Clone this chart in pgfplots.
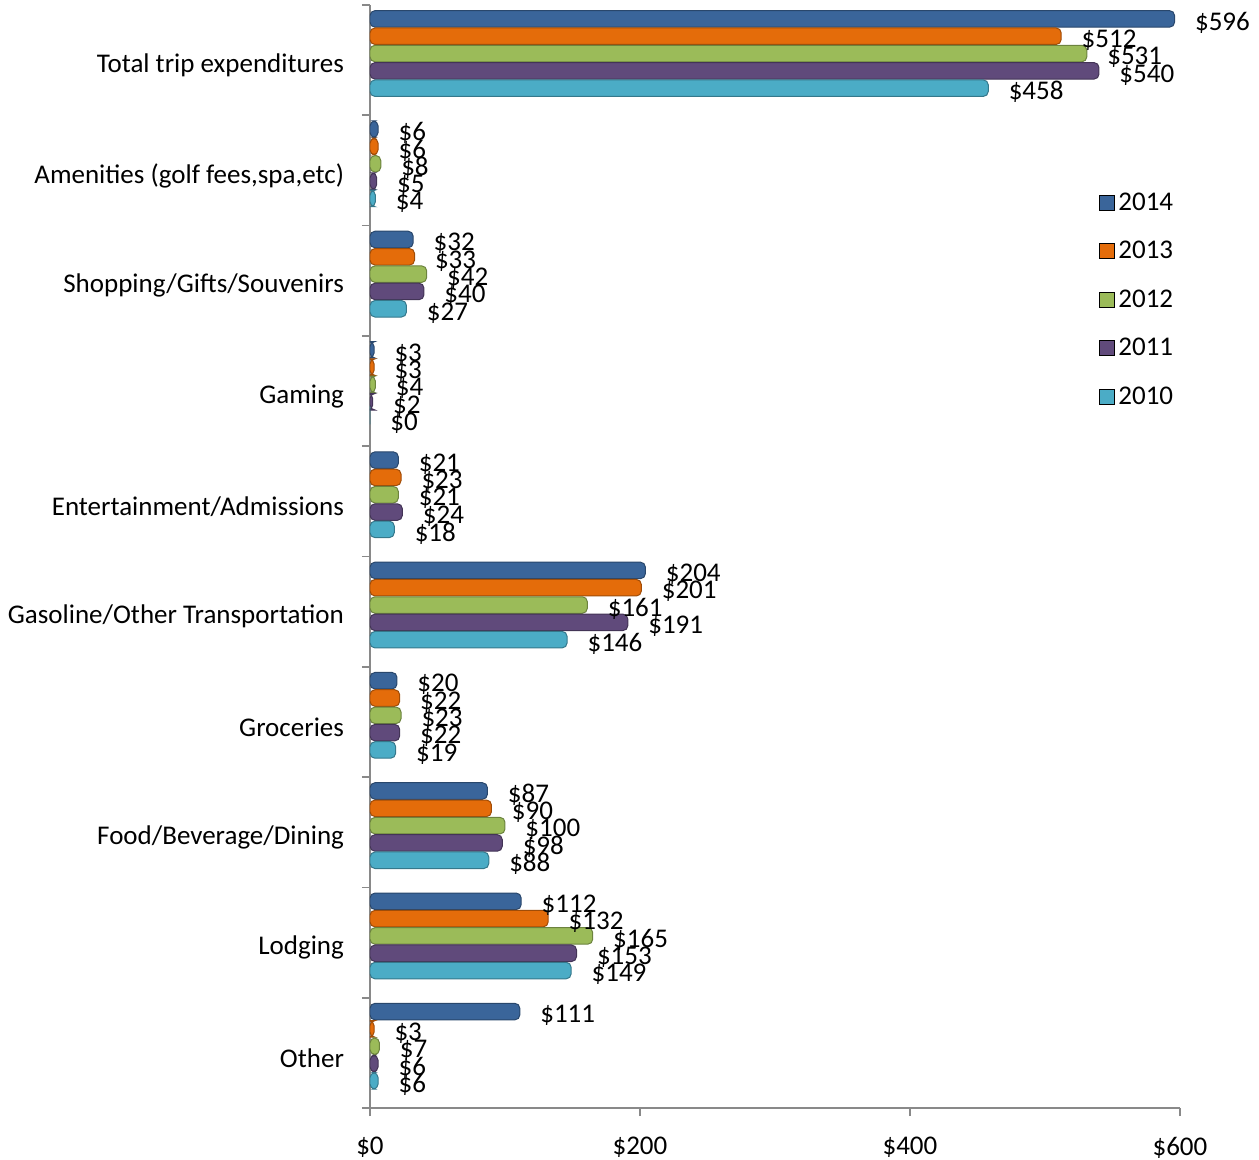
\documentclass[border=0pt]{standalone}
\usepackage{pgfplots}
\pgfplotsset{compat=1.18}
\usepackage{fontspec}
\setmainfont{Carlito}
\definecolor{cA}{HTML}{3A659A}
\definecolor{cB}{HTML}{E46C0A}
\definecolor{cC}{HTML}{9BBB59}
\definecolor{cD}{HTML}{604A7B}
\definecolor{cE}{HTML}{4BACC6}
\definecolor{axisgray}{HTML}{898989}
\newcommand{\fs}{\fontsize{13.5}{16.2}\selectfont}
\pgfplotsset{
  cyl/.style={forget plot, fill=#1, draw=#1!70!black, line width=0.5pt, rounded corners=2.5pt},
  my legend/.style={legend image code/.code={\fill[##1] (0pt,-3.75pt) rectangle (7.5pt,3.75pt);}},
}
\begin{document}
\begin{tikzpicture}
\useasboundingbox (-185pt,-26pt) rectangle (444.5pt,554pt);
\begin{axis}[
  at={(0,0)}, anchor=south west,
  scale only axis, width=405pt, height=551.5pt,
  xbar, y dir=reverse,
  xmin=0, xmax=600, ymin=-0.5, ymax=9.5,
  axis x line*=bottom, axis y line*=left,
  axis line style={color=axisgray, line width=0.8pt},
  xtick={0,200,400,600}, xticklabels={\$0,\$200,\$400,\$600},
  xticklabel style={font=\fs, yshift=-7pt},
  ytick={-0.5,0.5,...,9.5}, yticklabels={},
  extra y ticks={0,1,2,3,4,5,6,7,8,9},
  extra y tick labels={Total trip expenditures,{Amenities (golf fees,spa,etc)},Shopping/Gifts/Souvenirs,Gaming,Entertainment/Admissions,Gasoline/Other Transportation,Groceries,Food/Beverage/Dining,Lodging,Other},
  extra y tick style={major tick length=0pt, yticklabel style={font=\fs, xshift=-9.5pt, yshift=-2.5pt}},
  tick align=outside, major tick length=4pt,
  tick style={color=axisgray, line width=0.8pt},
  bar width=0.15,
  point meta=x,
  /pgf/number format/assume math mode=true,
  nodes near coords={\$\pgfmathprintnumber{\pgfplotspointmeta}},
  every node near coord/.append style={font=\fs, anchor=west, inner sep=0pt, xshift=10pt, yshift=-2pt, black, rounded corners=0pt},
  legend style={at={(0.899,0.834)}, anchor=north west, draw=none, fill=none, font=\fs, row sep=10pt, inner sep=0pt},
  legend cell align=left,
]
\addplot[cyl=cA, bar shift=-0.374] coordinates {(596,0) (6,1) (32,2) (3,3) (21,4) (204,5) (20,6) (87,7) (112,8) (111,9)};
\addplot[cyl=cB, bar shift=-0.217] coordinates {(512,0) (6,1) (33,2) (3,3) (23,4) (201,5) (22,6) (90,7) (132,8) (3,9)};
\addplot[cyl=cC, bar shift=-0.06] coordinates {(531,0) (8,1) (42,2) (4,3) (21,4) (161,5) (23,6) (100,7) (165,8) (7,9)};
\addplot[cyl=cD, bar shift=0.097] coordinates {(540,0) (5,1) (40,2) (2,3) (24,4) (191,5) (22,6) (98,7) (153,8) (6,9)};
\addplot[cyl=cE, bar shift=0.254] coordinates {(458,0) (4,1) (27,2) (0,3) (18,4) (146,5) (19,6) (88,7) (149,8) (6,9)};
\addlegendimage{my legend, fill=cA}\addlegendentry{2014}
\addlegendimage{my legend, fill=cB}\addlegendentry{2013}
\addlegendimage{my legend, fill=cC}\addlegendentry{2012}
\addlegendimage{my legend, fill=cD}\addlegendentry{2011}
\addlegendimage{my legend, fill=cE}\addlegendentry{2010}
\end{axis}
\end{tikzpicture}
\end{document}
